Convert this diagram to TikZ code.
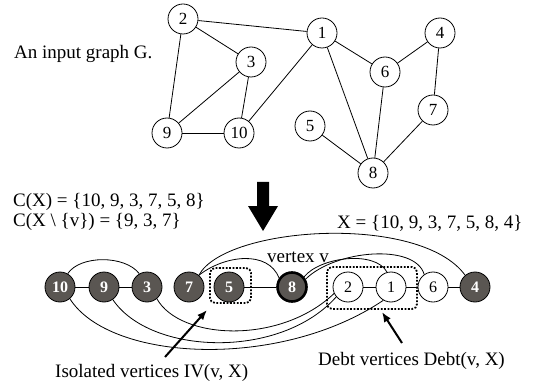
\documentclass[tikz,border=0pt]{standalone}
\usepackage{fontspec}
\setmainfont{Liberation Serif}
\usetikzlibrary{arrows.meta}
\definecolor{vfill}{RGB}{90,86,82}
\begin{document}
\begin{tikzpicture}[x=1pt,y=-1pt,
  gv/.style={circle,draw,line width=0.8pt,minimum size=30pt,inner sep=0pt,fill=white,font=\fontsize{17}{17}\selectfont},
  dv/.style={circle,draw,line width=0.8pt,minimum size=30pt,inner sep=0pt,fill=vfill,text=white,font=\fontsize{16}{16}\selectfont\bfseries},
  wv/.style={circle,draw,line width=0.8pt,minimum size=30pt,inner sep=0pt,fill=white,font=\fontsize{16}{16}\selectfont},
  vv/.style={dv,line width=2.6pt,minimum size=29pt},
  lbl/.style={inner sep=0pt,font=\fontsize{19}{19}\selectfont},
  edge/.style={line width=0.8pt},
  dotbox/.style={draw,line width=1.8pt,dash pattern=on 1.8pt off 1.6pt,rounded corners=5pt},
  callout/.style={line width=2pt,-{Latex[length=10pt,width=8pt]}}
]
\useasboundingbox (0,0) rectangle (537,387);

% ---- input graph ----
\node[gv] (t2) at (183,19) {2};
\node[gv] (t1) at (322,33) {1};
\node[gv] (t3) at (251,62) {3};
\node[gv] (t4) at (440,33) {4};
\node[gv] (t6) at (385,72) {6};
\node[gv] (t7) at (433,110) {7};
\node[gv] (t9) at (167,133) {9};
\node[gv] (t10) at (239,133) {10};
\node[gv] (t5) at (310,126) {5};
\node[gv] (t8) at (373,173) {8};
\foreach \a/\b in {t2/t1,t2/t3,t2/t9,t3/t9,t3/t10,t9/t10,t1/t10,t1/t6,t1/t8,t6/t4,t6/t8,t4/t7,t7/t8,t5/t8}
  \draw[edge] (\a) -- (\b);

\node[lbl,anchor=base west] (title) at (14,59) {An input graph G.};

% ---- big arrow ----
\fill[black] (257,182) -- (269,182) -- (269,206) -- (278,206) -- (263,231) -- (248,206) -- (257,206) -- cycle;

\node[lbl,anchor=base west] (cx) at (13,207) {C(X) = \{10, 9, 3, 7, 5, 8\}};
\node[lbl,anchor=base west] (cxv) at (13,226) {C(X \textbackslash\ \{v\}) = \{9, 3, 7\}};
\node[lbl,anchor=base west] (xset) at (337,228) {X = \{10, 9, 3, 7, 5, 8, 4\}};
\node[lbl,anchor=base west] (vlab) at (267,262) {vertex v};

% ---- ordered row ----
\node[dv] (b10) at (60,287) {10};
\node[dv] (b9) at (104,287) {9};
\node[dv] (b3) at (147,287) {3};
\node[dv] (b7) at (189,287) {7};
\node[dv] (b5) at (229,287) {5};
\node[vv] (b8) at (292,287) {8};
\node[wv] (b2) at (348,287) {2};
\node[wv] (b1) at (391,287) {1};
\node[wv] (b6) at (433,287) {6};
\node[dv] (b4) at (475,287) {4};

\foreach \a/\b in {b10/b9,b9/b3,b5/b8,b2/b1,b1/b6,b6/b4}
  \draw[edge] (\a) -- (\b);

\draw[edge] (b10.60) .. controls (80,255) and (125,255) .. (b3.120);
\draw[edge] (b7.50) .. controls (225,226) and (420,213) .. (b4.130);
\draw[edge] (b7.50) .. controls (225,255) and (268,250) .. (b8.145);
\draw[edge] (b8.40) .. controls (320,257) and (375,250) .. (b1.105);
\draw[edge] (b8.30) .. controls (335,250) and (415,243) .. (b6.125);
\draw[edge] (b3.-50) .. controls (180,340) and (280,345) .. (b2.205);
\draw[edge] (b9.-55) .. controls (150,355) and (280,360) .. (b2.220);
\draw[edge] (b10.-50) .. controls (110,362) and (280,370) .. (b1.240);

% ---- dotted groups ----
\draw[dotbox] (210,268) rectangle (251,303);
\draw[dotbox] (327,267) rectangle (417,309);

% ---- callouts ----
\node[lbl,anchor=base west] (iv) at (55,377) {Isolated vertices IV(v, X)};
\node[lbl,anchor=base west] (debt) at (318,365) {Debt vertices Debt(v, X)};
\coordinate (ivtail) at (165,357);
\coordinate (ivtip) at (207,310);
\coordinate (dtail) at (402,343);
\coordinate (dtip) at (382,312);
\draw[callout] (ivtail) -- (ivtip);
\draw[callout] (dtail) -- (dtip);
\end{tikzpicture}
\end{document}
